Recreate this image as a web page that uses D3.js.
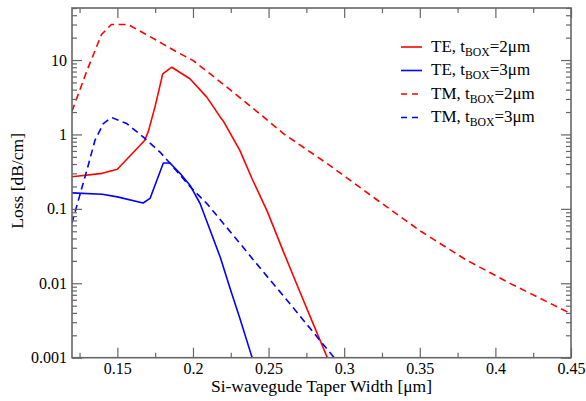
<!DOCTYPE html>
<html><head><meta charset="utf-8">
<script src="https://cdn.jsdelivr.net/npm/d3@7"></script>
<style>
body{margin:0;background:#fff;}
text{font-family:"Liberation Serif","Times New Roman",serif;fill:#000;}
</style></head>
<body>
<svg id="chart" width="586" height="401"></svg>
<script>
// ---- data ----
const xTicks = [0.15, 0.2, 0.25, 0.3, 0.35, 0.4, 0.45];
const xTickLabels = ["0.15", "0.2", "0.25", "0.3", "0.35", "0.4", "0.45"];
const yTicks = [0.001, 0.01, 0.1, 1, 10];
const yTickLabels = ["0.001", "0.01", "0.1", "1", "10"];

const te2x = [0.12, 0.14, 0.15, 0.168, 0.1705, 0.175, 0.18, 0.186, 0.198, 0.209, 0.218, 0.22, 0.231, 0.239, 0.249, 0.26, 0.27, 0.28, 0.29];
const te2y = [0.27, 0.30, 0.34, 0.83, 1.1, 2.4, 6.5, 8.0, 5.6, 3.2, 1.72, 1.52, 0.61, 0.256, 0.094, 0.026, 0.0083, 0.0027, 0.00088];

const te3x = [0.12, 0.14, 0.15, 0.167, 0.1716, 0.1804, 0.1848, 0.1914, 0.198, 0.2047, 0.2113, 0.218, 0.2245, 0.231, 0.2388, 0.241];
const te3y = [0.164, 0.157, 0.145, 0.12, 0.138, 0.414, 0.414, 0.30, 0.208, 0.118, 0.052, 0.0225, 0.0086, 0.0034, 0.00105, 0.0008];

const tm2x = [0.12, 0.13, 0.1395, 0.146, 0.157, 0.17, 0.18, 0.19, 0.2, 0.215, 0.23, 0.245, 0.26, 0.29, 0.32, 0.35, 0.38, 0.41, 0.45];
const tm2y = [2.05, 7.3, 22, 30, 30, 21.5, 16.5, 12.6, 9.9, 5.7, 3.25, 1.83, 1.02, 0.39, 0.14, 0.051, 0.021, 0.0099, 0.0039];

const tm3x = [0.12, 0.13, 0.1352, 0.1407, 0.1462, 0.1562, 0.1672, 0.1782, 0.1848, 0.198, 0.21, 0.22, 0.23, 0.24, 0.25, 0.26, 0.27, 0.28, 0.29, 0.3];
const tm3y = [0.065, 0.34, 0.835, 1.4, 1.69, 1.4, 0.92, 0.58, 0.41, 0.2, 0.113, 0.064, 0.0365, 0.0206, 0.0117, 0.0067, 0.0038, 0.00214, 0.00121, 0.00069];

const seriesNames = ["TE", "TE", "TM", "TM"];
const seriesBox = ["=2\u03bcm", "=3\u03bcm", "=2\u03bcm", "=3\u03bcm"];
const seriesColors = ["#ff0000", "#0000ff", "#ff0000", "#0000ff"];
const seriesDashed = [false, false, true, true];

const series = [
  {x: te2x, y: te2y},
  {x: te3x, y: te3y},
  {x: tm2x, y: tm2y},
  {x: tm3x, y: tm3y}
];

// ---- layout ----
const L = 72, R = 571, T = 8, B = 357.7;
const svg = d3.select("#chart");
const x = d3.scaleLinear().domain([0.12, 0.45]).range([L, R]);
const y = d3.scaleLog().domain([0.001, 50]).range([B, T]);

svg.append("defs").append("clipPath").attr("id", "clip")
  .append("rect").attr("x", L).attr("y", T).attr("width", R - L).attr("height", B - T);

const line = d3.line().x(d => x(d[0])).y(d => y(d[1]));
const g = svg.append("g").attr("clip-path", "url(#clip)");
series.forEach((s, i) => {
  const pts = s.x.map((v, j) => [v, s.y[j]]);
  g.append("path").datum(pts)
    .attr("d", line)
    .attr("fill", "none")
    .attr("stroke", seriesColors[i])
    .attr("stroke-width", 1.6)
    .attr("stroke-linejoin", "round")
    .attr("stroke-dasharray", seriesDashed[i] ? "7,4.5" : null);
});

// ---- axes ----
const axCol = "#666";
const xMinor = [];
for (let v = 0.125; v < 0.45; v += 0.05) xMinor.push(+v.toFixed(3));
const yMinor = [];
for (let e = -3; e <= 1; e++) for (let m = 2; m <= 9; m++) { const v = m * Math.pow(10, e); if (v <= 50) yMinor.push(v); }

const axBottom = d3.axisBottom(x).tickValues(xTicks).tickSize(-10).tickFormat((d, i) => xTickLabels[i]).tickPadding(5);
const axBottomMinor = d3.axisBottom(x).tickValues(xMinor).tickSize(-5).tickFormat("");
const axTop = d3.axisTop(x).tickValues(xTicks).tickSize(-10).tickFormat("");
const axTopMinor = d3.axisTop(x).tickValues(xMinor).tickSize(-5).tickFormat("");
const axLeft = d3.axisLeft(y).tickValues(yTicks).tickSize(-10).tickFormat((d, i) => yTickLabels[i]).tickPadding(5);
const axLeftMinor = d3.axisLeft(y).tickValues(yMinor).tickSize(-5).tickFormat("");
const axRight = d3.axisRight(y).tickValues(yTicks).tickSize(-10).tickFormat("");
const axRightMinor = d3.axisRight(y).tickValues(yMinor).tickSize(-5).tickFormat("");

function styleAxis(sel) {
  sel.select(".domain").remove();
  sel.attr("font-family", null);
  sel.selectAll("line").attr("stroke", axCol).attr("stroke-width", 1.2);
  sel.selectAll("text").attr("font-size", 16).attr("fill", "#000")
    .style("font-family", "'Liberation Serif', 'Times New Roman', serif");
}
svg.append("g").attr("transform", `translate(0,${B})`).call(axBottom).call(styleAxis);
svg.append("g").attr("transform", `translate(0,${B})`).call(axBottomMinor).call(styleAxis);
svg.append("g").attr("transform", `translate(0,${T})`).call(axTop).call(styleAxis);
svg.append("g").attr("transform", `translate(0,${T})`).call(axTopMinor).call(styleAxis);
svg.append("g").attr("transform", `translate(${L},0)`).call(axLeft).call(styleAxis);
svg.append("g").attr("transform", `translate(${L},0)`).call(axLeftMinor).call(styleAxis);
svg.append("g").attr("transform", `translate(${R},0)`).call(axRight).call(styleAxis);
svg.append("g").attr("transform", `translate(${R},0)`).call(axRightMinor).call(styleAxis);

svg.append("rect").attr("x", L).attr("y", T).attr("width", R - L).attr("height", B - T)
  .attr("fill", "none").attr("stroke", axCol).attr("stroke-width", 1.6);

// titles
svg.append("text").attr("x", (L + R) / 2).attr("y", 392).attr("text-anchor", "middle")
  .attr("font-size", 17.5).text("Si-wavegude Taper Width [\u03bcm]");
svg.append("text").attr("transform", `translate(22.5,${(T + B) / 2 - 2}) rotate(-90)`)
  .attr("text-anchor", "middle").attr("font-size", 17.5).text("Loss [dB/cm]");

// legend
const legY = [47, 70.5, 94, 117.5];
series.forEach((s, i) => {
  svg.append("line").attr("x1", 401).attr("x2", 422).attr("y1", legY[i]).attr("y2", legY[i])
    .attr("stroke", seriesColors[i]).attr("stroke-width", 1.6)
    .attr("stroke-dasharray", seriesDashed[i] ? "6,5" : null);
  const t = svg.append("text").attr("x", 431).attr("y", legY[i] + 4.5).attr("font-size", 17);
  t.append("tspan").text(seriesNames[i] + ", t");
  t.append("tspan").attr("font-size", 11.7).attr("dy", 4).text("BOX");
  t.append("tspan").attr("dy", -4).text(seriesBox[i]);
});
</script>
</body></html>
